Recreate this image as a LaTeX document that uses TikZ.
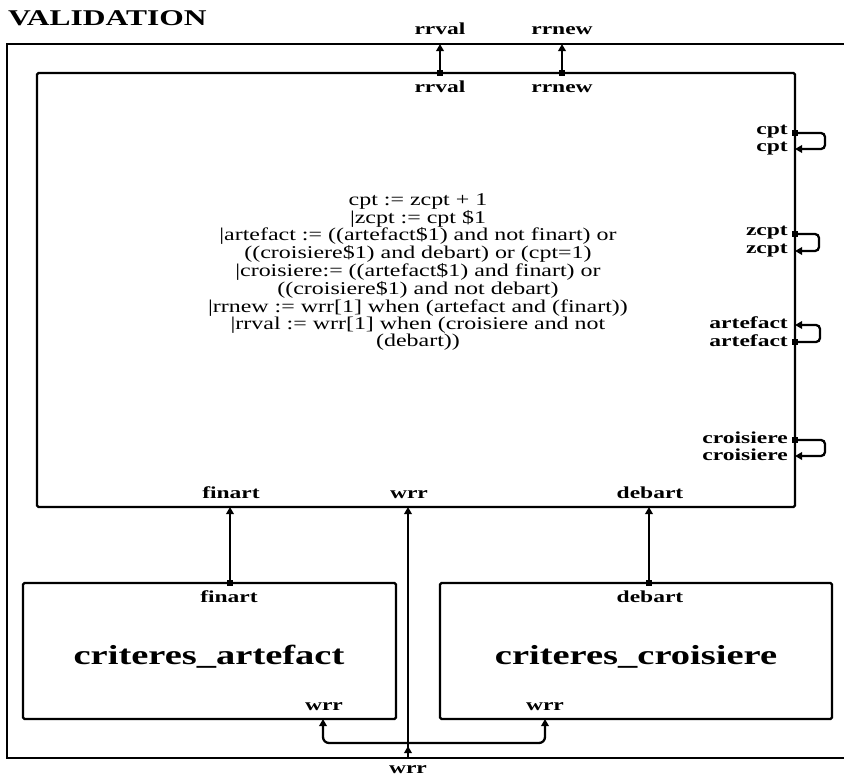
\documentclass[tikz,border=0pt]{standalone}
\usepackage{fontspec}
\setmainfont{Liberation Serif}
\newfontfamily\codefont{Liberation Serif}[FakeStretch=1.33]
\newfontfamily\lblfont{Liberation Serif}[FakeStretch=1.4]
\usetikzlibrary{arrows.meta}
\begin{document}
\begin{tikzpicture}[x=1pt,y=-1pt,
  outerbox/.style={draw, line width=2.5pt, inner sep=0pt, outer sep=0pt},
  box/.style={draw, line width=2.4pt, rounded corners=1.5pt, inner sep=0pt, outer sep=0pt},
  wire/.style={line width=2.3pt},
  tip/.style={-{Triangle[length=7pt,width=7.5pt]}},
  lbl/.style={font=\lblfont\bfseries\fontsize{16.8}{17}\selectfont, inner sep=0pt},
  bigl/.style={font=\lblfont\bfseries\fontsize{27.5}{30}\selectfont, inner sep=0pt},
  code/.style={font=\codefont\fontsize{18}{15.8}\selectfont, inner sep=0pt, align=center},
  outport/.pic={\fill (-2.8,-2.8) rectangle (2.8,2.8);}
]
\useasboundingbox (0,0) rectangle (844,777);

% boxes
\node[outerbox, minimum width=860pt, minimum height=714pt, anchor=north west] (outer) at (7,44) {};
\node[box, minimum width=758pt, minimum height=434pt, anchor=north west] (inner) at (37,73) {};
\node[box, minimum width=373pt, minimum height=136pt, anchor=north west] (subA) at (23,583) {};
\node[box, minimum width=392pt, minimum height=136pt, anchor=north west] (subC) at (440,583) {};

% title and box texts
\node[font=\lblfont\bfseries\fontsize{22.5}{24}\selectfont, inner sep=0pt, anchor=base west] (title) at (8,25) {VALIDATION};
\node[bigl, anchor=base] (nameA) at (209,664) {criteres\_artefact};
\node[bigl, anchor=base] (nameC) at (636,664) {criteres\_croisiere};

\node[code] (eqs) at (418,272) {cpt := zcpt + 1\\
|zcpt := cpt \$1\\
|artefact := ((artefact\$1) and not finart) or\\
((croisiere\$1) and debart) or (cpt=1)\\
|croisiere:= ((artefact\$1) and finart) or\\
((croisiere\$1) and not debart)\\
|rrnew := wrr[1] when (artefact and (finart))\\
|rrval := wrr[1] when (croisiere and not\\
(debart))};

% port coordinates
\coordinate (rrval-o) at (440,44);
\coordinate (rrval-i) at (440,73);
\coordinate (rrnew-o) at (562,44);
\coordinate (rrnew-i) at (562,73);
\coordinate (finart-i) at (230,507);
\coordinate (finart-a) at (230,583);
\coordinate (debart-i) at (649,507);
\coordinate (debart-c) at (649,583);
\coordinate (wrr-i) at (408,507);
\coordinate (wrr-o) at (408,758);
\coordinate (jct) at (408,743);
\coordinate (wrr-a) at (323,719);
\coordinate (wrr-c) at (545,719);
\coordinate (cpt-out) at (795,133);
\coordinate (cpt-in) at (795,149);
\coordinate (zcpt-out) at (795,234);
\coordinate (zcpt-in) at (795,251);
\coordinate (art-in) at (795,325);
\coordinate (art-out) at (795,342);
\coordinate (cro-out) at (795,440);
\coordinate (cro-in) at (795,456);

% connectors
\draw[wire,tip] (rrval-i) -- (rrval-o);
\pic at (rrval-i) {outport};
\draw[wire,tip] (rrnew-i) -- (rrnew-o);
\pic at (rrnew-i) {outport};
\draw[wire,tip] (finart-a) -- (finart-i);
\pic at (finart-a) {outport};
\draw[wire,tip] (debart-c) -- (debart-i);
\pic at (debart-c) {outport};
\draw[wire,tip] (wrr-o) -- (wrr-i);
\draw[wire,tip] (wrr-o) -- ([yshift=12pt]wrr-o);
\draw[wire,tip,rounded corners=6pt] (jct) -| (wrr-a);
\draw[wire,tip,rounded corners=6pt] (jct) -| (wrr-c);

\draw[wire,tip,rounded corners=4pt] (cpt-out) -- ++(30,0) |- (cpt-in);
\pic at (cpt-out) {outport};
\draw[wire,tip,rounded corners=4pt] (zcpt-out) -- ++(24,0) |- (zcpt-in);
\pic at (zcpt-out) {outport};
\draw[wire,tip,rounded corners=4pt] (art-out) -- ++(25,0) |- (art-in);
\pic at (art-out) {outport};
\draw[wire,tip,rounded corners=4pt] (cro-out) -- ++(30,0) |- (cro-in);
\pic at (cro-out) {outport};

% port labels
\node[lbl, anchor=base east] (l-cpt1) at (788,134) {cpt};
\node[lbl, anchor=base east] (l-cpt2) at (788,151) {cpt};
\node[lbl, anchor=base east] (l-zcpt1) at (788,235) {zcpt};
\node[lbl, anchor=base east] (l-zcpt2) at (788,253) {zcpt};
\node[lbl, anchor=base east] (l-art1) at (788,328) {artefact};
\node[lbl, anchor=base east] (l-art2) at (788,346) {artefact};
\node[lbl, anchor=base east] (l-cro1) at (788,443) {croisiere};
\node[lbl, anchor=base east] (l-cro2) at (788,460) {croisiere};
\node[lbl, anchor=base] (l-rrval-o) at (440,34) {rrval};
\node[lbl, anchor=base] (l-rrval-i) at (440,92) {rrval};
\node[lbl, anchor=base] (l-rrnew-o) at (562,34) {rrnew};
\node[lbl, anchor=base] (l-rrnew-i) at (562,92) {rrnew};
\node[lbl, anchor=base] (l-fin-i) at (231,498) {finart};
\node[lbl, anchor=base] (l-wrr-i) at (409,498) {wrr};
\node[lbl, anchor=base] (l-deb-i) at (650,498) {debart};
\node[lbl, anchor=base] (l-fin-a) at (229,602) {finart};
\node[lbl, anchor=base] (l-deb-c) at (650,602) {debart};
\node[lbl, anchor=base] (l-wrr-a) at (324,710) {wrr};
\node[lbl, anchor=base] (l-wrr-c) at (545,710) {wrr};
\node[lbl, anchor=base] (l-wrr-o) at (408,773) {wrr};
\end{tikzpicture}
\end{document}
